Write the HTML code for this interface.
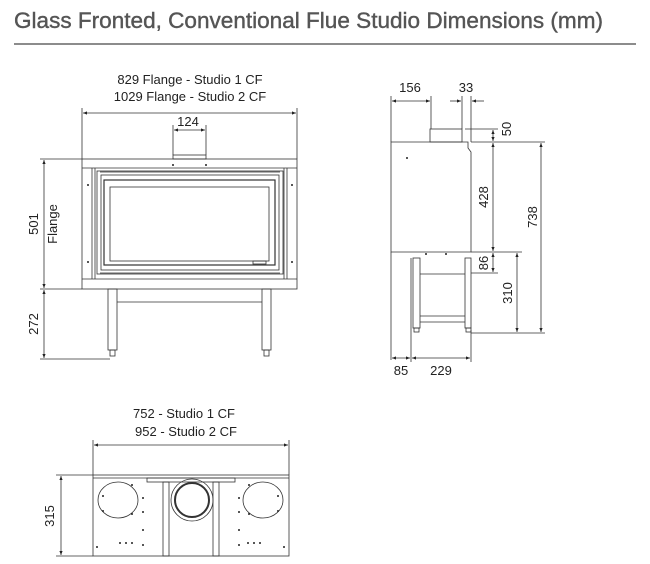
<!DOCTYPE html>
<html><head><meta charset="utf-8"><style>
html,body{margin:0;padding:0;background:#fff;}
svg{display:block;}
text{font-family:"Liberation Sans",sans-serif;fill:#222;}
</style></head><body>
<svg width="650" height="564" viewBox="0 0 650 564" xmlns="http://www.w3.org/2000/svg">
<defs>
<marker id="a" viewBox="0 0 10 10" refX="10" refY="5" markerWidth="7" markerHeight="5" orient="auto-start-reverse"><path d="M0,1 L10,5 L0,9 z" fill="#222"/></marker>
</defs>
<text x="14" y="28" font-size="22" textLength="589" lengthAdjust="spacingAndGlyphs" style="fill:#555;stroke:#555;stroke-width:0.4">Glass Fronted, Conventional Flue Studio Dimensions (mm)</text>
<line x1="14" y1="44" x2="636" y2="44" stroke="#666" stroke-width="1.5"/>

<g stroke="#333" stroke-width="0.8" fill="none">
<!-- FRONT VIEW -->
<line x1="82" y1="108" x2="82" y2="159"/><line x1="297" y1="108" x2="297" y2="159"/>
<line x1="83" y1="113" x2="296" y2="113" marker-start="url(#a)" marker-end="url(#a)"/>
<line x1="173" y1="125" x2="173" y2="155"/><line x1="206" y1="125" x2="206" y2="155"/>
<line x1="174" y1="130" x2="205" y2="130" marker-start="url(#a)" marker-end="url(#a)"/>
<rect x="173" y="155" width="33" height="4"/>
<rect x="82" y="159" width="215" height="130"/>
<line x1="82" y1="168" x2="297" y2="168"/><line x1="82" y1="279" x2="297" y2="279"/>
<line x1="92" y1="168" x2="92" y2="279"/><line x1="95" y1="168" x2="95" y2="279"/>
<line x1="284" y1="168" x2="284" y2="279"/><line x1="287" y1="168" x2="287" y2="279"/>
<rect x="97" y="171" width="186" height="103"/>
<rect x="101" y="175" width="178" height="95"/>
<rect x="104" y="180" width="171" height="85" stroke-width="1.2"/>
<rect x="110" y="187" width="159" height="74"/>
<rect x="253" y="261" width="13" height="3"/>
<line x1="100" y1="172" x2="280" y2="172"/>
<line x1="100" y1="273" x2="280" y2="273"/>
<rect x="108" y="289" width="9" height="61"/><rect x="262" y="289" width="9" height="61"/>
<line x1="117" y1="302" x2="262" y2="302"/>
<rect x="110" y="350" width="5" height="6"/><rect x="264" y="350" width="5" height="6"/>
<line x1="40" y1="159" x2="82" y2="159"/><line x1="40" y1="289" x2="82" y2="289"/><line x1="40" y1="359" x2="110" y2="359"/>
<line x1="44" y1="160" x2="44" y2="288" marker-start="url(#a)" marker-end="url(#a)"/>
<line x1="44" y1="290" x2="44" y2="358" marker-start="url(#a)" marker-end="url(#a)"/>

<!-- SIDE VIEW -->
<path d="M391,142 L468,142 L468,148 L471,152 L471,252 L391,252 Z"/>
<rect x="430" y="129" width="32" height="13"/>
<line x1="391" y1="96" x2="391" y2="142"/><line x1="431" y1="96" x2="431" y2="129"/>
<line x1="392" y1="101" x2="430" y2="101" marker-start="url(#a)" marker-end="url(#a)"/>
<line x1="462" y1="96" x2="462" y2="129"/><line x1="471" y1="96" x2="471" y2="142"/>
<line x1="450" y1="101" x2="461" y2="101" marker-end="url(#a)"/>
<line x1="484" y1="101" x2="472" y2="101" marker-end="url(#a)"/>
<line x1="391" y1="252" x2="391" y2="360"/>
<rect x="413" y="258" width="7" height="70"/><rect x="465" y="258" width="6" height="70"/>
<line x1="420" y1="274" x2="465" y2="274"/>
<line x1="420" y1="316" x2="465" y2="316"/><line x1="420" y1="322" x2="465" y2="322"/>
<rect x="414" y="328" width="5" height="4"/><rect x="466" y="328" width="5" height="4"/>
<line x1="411" y1="258" x2="411" y2="362"/><line x1="471" y1="330" x2="471" y2="362"/>
<line x1="392" y1="358" x2="410" y2="358" marker-start="url(#a)" marker-end="url(#a)"/>
<line x1="412" y1="358" x2="470" y2="358" marker-start="url(#a)" marker-end="url(#a)"/>
<line x1="465" y1="129" x2="498" y2="129"/>
<line x1="471" y1="142" x2="545" y2="142"/>
<line x1="471" y1="252" x2="522" y2="252"/>
<line x1="471" y1="273" x2="498" y2="273"/>
<line x1="471" y1="333" x2="545" y2="333"/>
<line x1="493" y1="130" x2="493" y2="141" marker-start="url(#a)" marker-end="url(#a)"/>
<line x1="493" y1="143" x2="493" y2="251" marker-start="url(#a)" marker-end="url(#a)"/>
<line x1="493" y1="253" x2="493" y2="272" marker-start="url(#a)" marker-end="url(#a)"/>
<line x1="517" y1="253" x2="517" y2="332" marker-start="url(#a)" marker-end="url(#a)"/>
<line x1="541" y1="143" x2="541" y2="332" marker-start="url(#a)" marker-end="url(#a)"/>

<!-- BOTTOM VIEW -->
<line x1="93" y1="440" x2="93" y2="475"/><line x1="289" y1="440" x2="289" y2="475"/>
<line x1="94" y1="445" x2="288" y2="445" marker-start="url(#a)" marker-end="url(#a)"/>
<rect x="93" y="475" width="196" height="81"/>
<line x1="93" y1="478" x2="289" y2="478"/>
<rect x="147" y="478" width="88" height="4"/>
<rect x="163" y="482" width="6" height="74"/><rect x="213" y="482" width="6" height="74"/>
<ellipse cx="118" cy="500" rx="20" ry="18"/>
<ellipse cx="263" cy="500" rx="20" ry="18"/>
<circle cx="192" cy="500" r="21"/>
<circle cx="192" cy="500" r="17" stroke-width="2"/>
<line x1="56" y1="475" x2="93" y2="475"/><line x1="56" y1="556" x2="93" y2="556"/>
<line x1="61" y1="476" x2="61" y2="555" marker-start="url(#a)" marker-end="url(#a)"/>
</g>
<g fill="#222">
<circle cx="103" cy="496" r="1"/><circle cx="132" cy="485" r="1"/><circle cx="103" cy="511" r="1"/><circle cx="132" cy="514" r="1"/>
<circle cx="143" cy="498" r="1"/><circle cx="143" cy="512" r="1"/><circle cx="143" cy="530" r="1"/><circle cx="143" cy="545" r="1"/>
<circle cx="120" cy="543" r="1"/><circle cx="126" cy="543" r="1"/><circle cx="132" cy="543" r="1"/><circle cx="97" cy="547" r="1"/>
<circle cx="278" cy="496" r="1"/><circle cx="249" cy="485" r="1"/><circle cx="278" cy="511" r="1"/><circle cx="249" cy="514" r="1"/>
<circle cx="239" cy="498" r="1"/><circle cx="239" cy="512" r="1"/><circle cx="239" cy="530" r="1"/><circle cx="239" cy="545" r="1"/>
<circle cx="248" cy="543" r="1"/><circle cx="254" cy="543" r="1"/><circle cx="260" cy="543" r="1"/><circle cx="284" cy="547" r="1"/>
<circle cx="173" cy="165" r="1"/><circle cx="206" cy="165" r="1"/><circle cx="88" cy="185" r="1"/><circle cx="88" cy="262" r="1"/><circle cx="292" cy="185" r="1"/><circle cx="292" cy="262" r="1"/>
<circle cx="407" cy="158" r="1"/><circle cx="426" cy="254" r="1"/><circle cx="446" cy="254" r="1"/>
</g>

<g font-size="13" text-anchor="middle">
<text x="190" y="84">829 Flange - Studio 1 CF</text>
<text x="190" y="101">1029 Flange - Studio 2 CF</text>
<text x="188" y="126">124</text>
<text transform="translate(38,224) rotate(-90)">501</text>
<text transform="translate(57,224) rotate(-90)">Flange</text>
<text transform="translate(38,324) rotate(-90)">272</text>
<text x="410" y="92">156</text>
<text x="466" y="92">33</text>
<text transform="translate(511,129) rotate(-90)">50</text>
<text transform="translate(488,197) rotate(-90)">428</text>
<text transform="translate(488,263) rotate(-90)">86</text>
<text transform="translate(512,293) rotate(-90)">310</text>
<text transform="translate(537,217) rotate(-90)">738</text>
<text x="401" y="375">85</text>
<text x="441" y="375">229</text>
<text x="184" y="418">752  - Studio 1 CF</text>
<text x="186" y="436">952 - Studio 2 CF</text>
<text transform="translate(54,516) rotate(-90)">315</text>
</g>
</svg>
</body></html>
